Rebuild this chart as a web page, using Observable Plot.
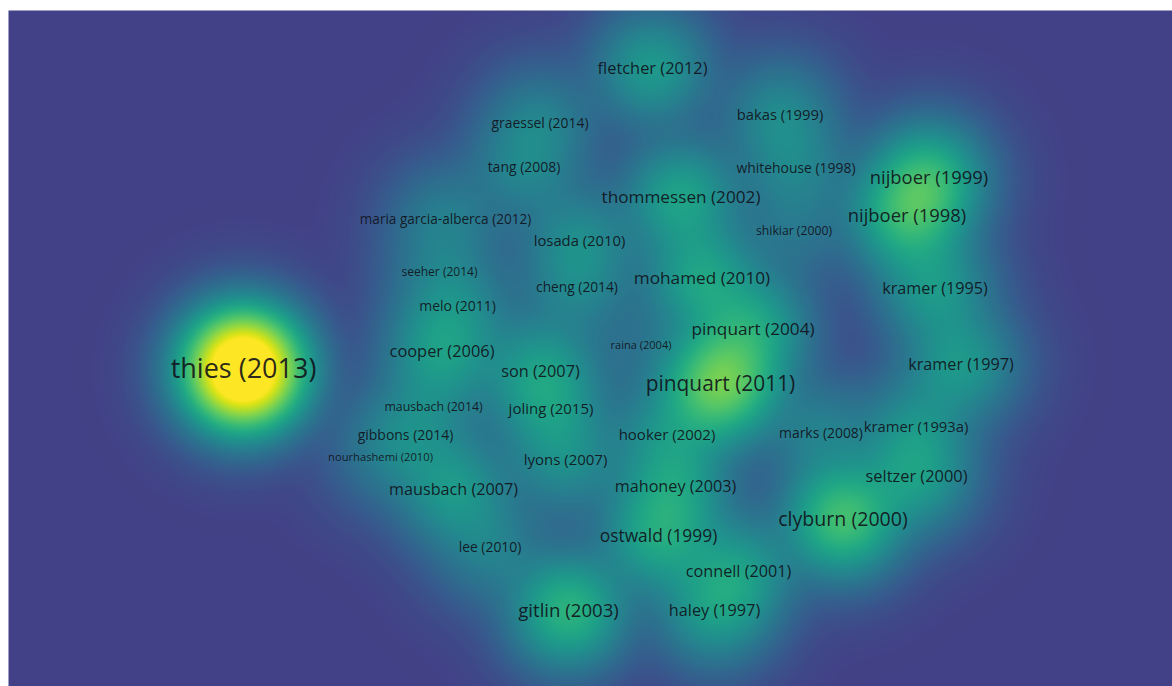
<!DOCTYPE html>
<html>
<head>
<meta charset="utf-8">
<script src="https://cdn.jsdelivr.net/npm/d3@7"></script>
<script src="https://cdn.jsdelivr.net/npm/@observablehq/plot@0.6"></script>
<style>
  html, body { margin: 0; padding: 0; background: #ffffff; }
  #chart svg { display: block; }
</style>
</head>
<body>
<div id="chart"></div>
<script>
// Items of the co-citation density map (map coordinates, item weights)
const labels = [
  "thies (2013)", "fletcher (2012)", "graessel (2014)", "bakas (1999)", "tang (2008)",
  "whitehouse (1998)", "nijboer (1999)", "thommessen (2002)", "nijboer (1998)",
  "maria garcia-alberca (2012)", "shikiar (2000)", "losada (2010)", "seeher (2014)",
  "mohamed (2010)", "cheng (2014)", "kramer (1995)", "melo (2011)", "pinquart (2004)",
  "raina (2004)", "cooper (2006)", "son (2007)", "pinquart (2011)", "kramer (1997)",
  "mausbach (2014)", "joling (2015)", "gibbons (2014)", "hooker (2002)", "marks (2008)",
  "kramer (1993a)", "nourhashemi (2010)", "lyons (2007)", "seltzer (2000)", "mahoney (2003)",
  "mausbach (2007)", "clyburn (2000)", "ostwald (1999)", "lee (2010)", "connell (2001)",
  "gitlin (2003)", "haley (1997)"
];
const xs = [
  -3.47, 0.62, -0.505, 1.895, -0.665,
  2.055, 3.385, 0.905, 3.165,
  -1.45, 2.035, -0.11, -1.51,
  1.115, -0.135, 3.445, -1.33, 1.625,
  0.505, -1.485, -0.50, 1.30, 3.705,
  -1.57, -0.395, -1.85, 0.765, 2.305,
  3.255, -2.10, -0.25, 3.26, 0.85,
  -1.37, 2.525, 0.68, -1.005, 1.48,
  -0.22, 1.24
];
const ys = [
  -0.29, 2.72, 2.17, 2.25, 1.73,
  1.72, 1.62, 1.43, 1.24,
  1.21, 1.09, 0.99, 0.68,
  0.62, 0.53, 0.52, 0.34, 0.11,
  -0.05, -0.11, -0.31, -0.44, -0.24,
  -0.67, -0.69, -0.95, -0.95, -0.93,
  -0.87, -1.17, -1.20, -1.36, -1.46,
  -1.49, -1.79, -1.96, -2.07, -2.31,
  -2.71, -2.70
];
const weights = [
  874, 100, 49, 64, 50,
  49, 165, 123, 165,
  44, 28, 64, 26,
  123, 47, 95, 50, 123,
  18, 100, 97, 287, 95,
  29, 68, 50, 68, 49,
  64, 19, 68, 100, 95,
  95, 217, 129, 49, 95,
  173, 97
];

const items = labels.map((label, i) => ({label, x: xs[i], y: ys[i], w: weights[i]}));

// kernel density over the map
const bandwidth = 0.33;
const twoS2 = 2 * bandwidth * bandwidth;
function density(x, y) {
  let s = 0;
  for (const d of items) {
    const dx = x - d.x, dy = y - d.y;
    s += d.w * Math.exp(-(dx * dx + dy * dy) / twoS2);
  }
  return s;
}

const fontScale = d3.scalePow().exponent(0.23).domain([0, 100]).range([0, 16.4]);

const xDomain = [-5.82, 5.82];
const yDomain = [-3.46, 3.30];

const chart = Plot.plot({
  width: 1172,
  height: 686,
  marginLeft: 8,
  marginTop: 10,
  marginRight: 0,
  marginBottom: 0,
  x: {domain: xDomain, axis: null},
  y: {domain: yDomain, axis: null},
  color: {
    type: "sqrt",
    domain: [0, 560],
    clamp: true,
    interpolate: t => d3.interpolateViridis(0.19 + 0.81 * t)
  },
  style: {background: "transparent"},
  marks: [
    Plot.raster({
      fill: density,
      x1: xDomain[0], x2: xDomain[1],
      y1: yDomain[0], y2: yDomain[1],
      pixelSize: 1
    }),
    Plot.text(items, {
      x: "x",
      y: "y",
      text: "label",
      fontSize: d => fontScale(d.w),
      fontFamily: "Open Sans",
      fill: "#101018",
      fillOpacity: 0.9
    })
  ]
});

document.getElementById("chart").appendChild(chart);
</script>
</body>
</html>
